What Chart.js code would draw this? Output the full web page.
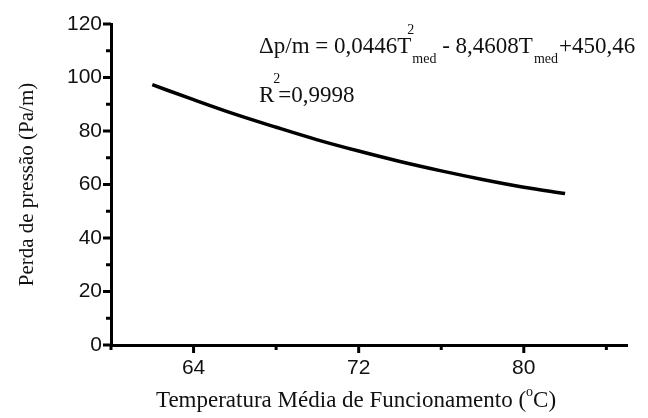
<!DOCTYPE html>
<html>
<head>
<meta charset="utf-8">
<script src="https://cdn.jsdelivr.net/npm/chart.js@4.4.1/dist/chart.umd.min.js"></script>
<style>
  html, body { margin: 0; padding: 0; background: #fff; }
</style>
</head>
<body>
<canvas id="perdaChart" width="648" height="418"></canvas>
<script>
// Dados (curva ajustada)
const temperaturas = [62, 64, 66, 68, 70, 72, 74, 76, 78, 80, 82];
const perdaPressao = [97.3, 91.7, 86.3, 81.4, 76.7, 72.5, 68.6, 65.1, 61.9, 59.0, 56.6];

const xTicks = [60, 64, 68, 72, 76, 80, 84];
const xLabels = [64, 72, 80];
const yTicks = [0, 10, 20, 30, 40, 50, 60, 70, 80, 90, 100, 110, 120];
const yLabels = [0, 20, 40, 60, 80, 100, 120];

const serif = "'Liberation Serif', 'DejaVu Serif', serif";
const sans = "'Liberation Sans', Arial, sans-serif";

// Ticks maiores/menores e textos (títulos e equação)
const extras = {
    id: 'extras',
    afterDraw(chart) {
        const ctx = chart.ctx;
        const xs = chart.scales.x, ys = chart.scales.y;
        const area = chart.chartArea;
        ctx.save();
        ctx.strokeStyle = '#000';
        ctx.lineWidth = 3;
        xTicks.forEach(v => {
            const px = xs.getPixelForValue(v);
            const len = xLabels.includes(v) ? 8 : 5;
            ctx.beginPath();
            ctx.moveTo(px, area.bottom);
            ctx.lineTo(px, area.bottom + len);
            ctx.stroke();
        });
        yTicks.forEach(v => {
            const py = ys.getPixelForValue(v);
            const len = yLabels.includes(v) ? 8 : 5;
            ctx.beginPath();
            ctx.moveTo(area.left, py);
            ctx.lineTo(area.left - len, py);
            ctx.stroke();
        });

        ctx.fillStyle = '#111';
        ctx.textBaseline = 'alphabetic';
        ctx.textAlign = 'left';

        // Título eixo X
        const big = '23px ' + serif, small = '14px ' + serif;
        ctx.font = big;
        const p1 = 'Temperatura Média de Funcionamento (';
        const w1 = ctx.measureText(p1).width;
        const wC = ctx.measureText('C)').width;
        ctx.font = small;
        const wo = ctx.measureText('o').width;
        const total = w1 + wo + wC;
        let tx = 356 - total / 2;
        const tb = 407;
        ctx.font = big;
        ctx.fillText(p1, tx, tb);
        ctx.font = small;
        ctx.fillText('o', tx + w1, tb - 11);
        ctx.font = big;
        ctx.fillText('C)', tx + w1 + wo, tb);

        // Título eixo Y
        ctx.save();
        ctx.translate(33, (area.top + area.bottom) / 2);
        ctx.rotate(-Math.PI / 2);
        ctx.textAlign = 'center';
        ctx.font = '21px ' + serif;
        ctx.fillText('Perda de pressão (Pa/m)', 0, 0);
        ctx.restore();

        // Equação
        const eq = '23px ' + serif, eqs = '14px ' + serif;
        let x = 259;
        const b = 53;
        ctx.font = eq;
        ctx.fillText('Δp/m = 0,0446T', x, b);
        x += ctx.measureText('Δp/m = 0,0446T').width;
        ctx.font = eqs;
        ctx.fillText('2', x - 4, b - 19);
        ctx.fillText('med', x + 1, b + 10);
        x += ctx.measureText('med').width + 1;
        ctx.font = eq;
        ctx.fillText(' - 8,4608T', x, b);
        x += ctx.measureText(' - 8,4608T').width;
        ctx.font = eqs;
        ctx.fillText('med', x + 1, b + 10);
        x += ctx.measureText('med').width + 2;
        ctx.font = eq;
        ctx.fillText('+450,46', x, b);

        // R²
        x = 259;
        const b2 = 102;
        ctx.font = eq;
        ctx.fillText('R', x, b2);
        x += ctx.measureText('R').width - 1;
        ctx.font = eqs;
        ctx.fillText('2', x, b2 - 19);
        x += ctx.measureText('2').width - 2;
        ctx.font = eq;
        ctx.fillText('=0,9998', x, b2);
        ctx.restore();
    }
};

new Chart(document.getElementById('perdaChart'), {
    type: 'line',
    data: {
        datasets: [{
            data: temperaturas.map((t, i) => ({ x: t, y: perdaPressao[i] })),
            borderColor: '#000',
            borderWidth: 3.5,
            pointRadius: 0,
            fill: false,
            cubicInterpolationMode: 'monotone'
        }]
    },
    options: {
        responsive: false,
        animation: false,
        devicePixelRatio: 1,
        layout: { padding: { top: 24, right: 21, left: 0, bottom: 0 } },
        plugins: { legend: { display: false }, tooltip: { enabled: false } },
        scales: {
            x: {
                type: 'linear',
                min: 60,
                max: 85,
                afterBuildTicks: s => { s.ticks = xTicks.map(v => ({ value: v })); },
                afterFit: s => { s.height = 73; },
                grid: { drawOnChartArea: false, drawTicks: true, tickLength: 8, tickColor: 'rgba(0,0,0,0)' },
                border: { color: '#000', width: 3 },
                ticks: {
                    color: '#111',
                    padding: 3,
                    maxRotation: 0,
                    autoSkip: false,
                    font: { family: sans, size: 21 },
                    callback: v => xLabels.includes(v) ? String(v) : ''
                }
            },
            y: {
                min: 0,
                max: 120,
                afterBuildTicks: s => { s.ticks = yTicks.map(v => ({ value: v })); },
                afterFit: s => { s.width = 111; },
                grid: { drawOnChartArea: false, drawTicks: true, tickLength: 8, tickColor: 'rgba(0,0,0,0)' },
                border: { color: '#000', width: 3 },
                ticks: {
                    color: '#111',
                    padding: 1,
                    autoSkip: false,
                    font: { family: sans, size: 21 },
                    callback: v => yLabels.includes(v) ? String(v) : ''
                }
            }
        }
    },
    plugins: [extras]
});
</script>
</body>
</html>
